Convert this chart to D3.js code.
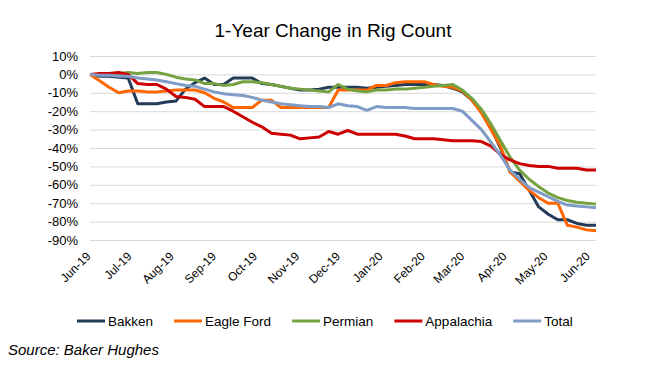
<!DOCTYPE html>
<html><head><meta charset="utf-8">
<script src="https://cdn.jsdelivr.net/npm/d3@7"></script>
<style>body{margin:0;background:#fff}svg{display:block;font-family:"Liberation Sans",Arial,sans-serif}</style>
</head><body><svg id="c" width="666" height="377"></svg>
<script>
const chartTitle = "1-Year Change in Rig Count";
const sourceText = "Source: Baker Hughes";
const startDate = "2019-06-07"; // weekly observations
const monthLabels = ["Jun-19","Jul-19","Aug-19","Sep-19","Oct-19","Nov-19","Dec-19","Jan-20","Feb-20","Mar-20","Apr-20","May-20","Jun-20"];
const yTicks = [10,0,-10,-20,-30,-40,-50,-60,-70,-80,-90];
const seriesNames = ["Bakken","Eagle Ford","Permian","Appalachia","Total"];
const seriesColors = ["#243B58","#FF6600","#75A241","#CC0000","#7F9CC6"];
const bakken = [0,-1,-1,-1.5,-2,-16,-16,-16,-15,-14.5, -8,-4.5,-2,-5.5,-5.5,-2,-2,-2,-5,-5.5, -6.5,-7.5,-8.5,-8.5,-8,-7,-7,-7,-7,-7.5, -7,-6.5,-6,-5.5,-5.5,-5.5,-5.5,-6,-7.5,-9.5, -14,-20,-29,-40,-53,-54,-63,-72,-76,-79, -79,-81,-82,-82];
const eagleFord = [0,-3.5,-7,-10,-9,-9,-9.5,-9.5,-9,-8.5, -8.5,-8.5,-10,-13,-15,-18,-18,-18,-14,-14, -18,-18,-18,-18,-18,-18,-8.5,-8.5,-8.5,-8.5, -6,-6,-4.5,-4,-4,-4,-5.5,-6.5,-7,-9, -14,-21,-30,-39,-53,-58,-63,-67,-70,-70, -82,-83,-84.5,-85];
const permian = [0,0,0.5,0.5,1,0.5,1,1,0,-1.5, -2.5,-3,-5,-5,-6,-5.5,-4,-4,-4.5,-5.5, -6.5,-7.5,-8,-8.5,-9,-9.5,-5.5,-8,-9,-9.5, -8.5,-8.5,-8,-8,-7.5,-7,-6.5,-6,-5.5,-8.5, -13,-19,-27,-36,-45,-52,-57,-61,-64.5,-67, -68.5,-69.5,-70,-70.5];
const appalachia = [0,0.5,0.5,1,0,-5,-5.5,-5.5,-8,-12, -12.5,-13.5,-17.5,-17.5,-17.5,-20,-23,-26,-28.5,-32, -32.5,-33,-35,-34.5,-34,-31,-32.5,-30.5,-32.5,-32.5, -32.5,-32.5,-32.5,-33.5,-35,-35,-35,-35.5,-36,-36, -36,-36.5,-39,-43.5,-46.5,-48.5,-49.5,-50,-50,-51, -51,-51,-52,-52];
const total = [0,-0.5,-0.5,-1,-1,-2,-2.5,-3,-4,-5, -6,-6.5,-8,-9.5,-10.5,-11,-11.5,-12.5,-14,-15, -16,-16.5,-17,-17.5,-17.5,-18,-16,-17,-17.5,-19.5, -17.5,-18,-18,-18,-18.5,-18.5,-18.5,-18.5,-18.5,-20, -25,-30,-37,-44,-52,-57,-61.5,-64,-66.5,-69, -71,-71.5,-72,-72.5];
const seriesValues = [bakken, eagleFord, permian, appalachia, total];

const svg = d3.select("#c");
const W = 666, H = 377;
const m = {left: 90, right: 70, top: 56, bottom: 137};
const start = d3.timeParse("%Y-%m-%d")(startDate);
const dates = bakken.map((_, i) => d3.timeDay.offset(start, 7 * i));
const x = d3.scaleTime().domain([dates[0], dates[dates.length - 1]]).range([m.left, W - m.right]);
const y = d3.scaleLinear().domain([-90, 10]).range([H - m.bottom, m.top]);

// title
svg.append("text").attr("x", 333).attr("y", 37).attr("text-anchor", "middle")
  .attr("font-size", 19).attr("fill", "#000").text(chartTitle);

// gridlines + y labels
const yAxis = d3.axisLeft(y).tickValues(yTicks).tickFormat(d => d + "%")
  .tickSize(-(W - m.left - m.right)).tickPadding(12);
const gy = svg.append("g").attr("transform", `translate(${m.left},0)`).call(yAxis);
gy.select(".domain").remove();
gy.selectAll(".tick line").attr("stroke", "#D9D9D9").attr("stroke-width", 1);
gy.selectAll(".tick text").attr("font-size", 13).attr("fill", "#000")
  .attr("font-family", "Liberation Sans, Arial, sans-serif");

// x labels
const tickDates = monthLabels.map((_, k) => d3.timeMonth.offset(start, k));
const xAxis = d3.axisBottom(x).tickValues(tickDates).tickFormat((d, i) => monthLabels[i]).tickSize(0);
const gx = svg.append("g").attr("transform", `translate(0,${H - m.bottom})`).call(xAxis);
gx.select(".domain").remove();
gx.selectAll(".tick text").attr("font-size", 12).attr("fill", "#000")
  .attr("font-family", "Liberation Sans, Arial, sans-serif")
  .attr("text-anchor", "end").attr("dy", "0").attr("y", 0)
  .attr("transform", "translate(1,17) rotate(-45)");

// lines
const line = d3.line().x((d, i) => x(dates[i])).y(d => y(d));
seriesValues.forEach((vals, s) => {
  svg.append("path").datum(vals).attr("d", line).attr("fill", "none")
    .attr("stroke", seriesColors[s]).attr("stroke-width", 3)
    .attr("stroke-linejoin", "round").attr("stroke-linecap", "butt");
});

// legend
const lg = svg.append("g");
let lx = 77;
const ly = 321;
seriesNames.forEach((name, s) => {
  lg.append("line").attr("x1", lx).attr("x2", lx + 28).attr("y1", ly).attr("y2", ly)
    .attr("stroke", seriesColors[s]).attr("stroke-width", 3);
  const t = lg.append("text").attr("x", lx + 31).attr("y", ly + 5).attr("font-size", 13.5)
    .attr("fill", "#000").text(name);
  lx += 31 + t.node().getComputedTextLength() + 21;
});

// source
svg.append("text").attr("x", 8).attr("y", 355).attr("font-size", 15)
  .attr("font-style", "italic").attr("fill", "#000").text(sourceText);
</script></body></html>
